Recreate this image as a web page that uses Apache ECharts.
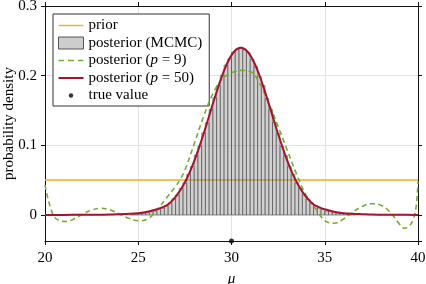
<!DOCTYPE html>
<html><head><meta charset="utf-8">
<script src="https://cdn.jsdelivr.net/npm/echarts@6/dist/echarts.min.js"></script>
<style>html,body{margin:0;padding:0;background:#fff}#c{width:426px;height:284px}</style>
</head><body><div id="c"></div>
<script>
// ---- data ----
const xMin = 20, xMax = 40, xStep = 5;
const yMin = -0.0375, yMax = 0.3;
const priorX = [20, 40];
const priorY = [0.05, 0.05];
const histStart = 24.6, histWidth = 0.2;
const histHeights = [0.0012,0.0016,0.0019,0.0027,0.0032,0.0044,0.0056,0.0078,0.0095,0.0131,
  0.0166,0.0231,0.0286,0.0378,0.0458,0.0582,0.0694,0.0858,0.0990,0.1178,
  0.1322,0.1518,0.1684,0.1861,0.2003,0.2152,0.2241,0.2338,0.2379,0.2408,
  0.2372,0.2331,0.2232,0.2131,0.1987,0.1858,0.1672,0.1512,0.1328,0.1167,
  0.0983,0.0851,0.0694,0.0581,0.0460,0.0379,0.0290,0.0228,0.0169,0.0133,
  0.0098,0.0078,0.0056,0.0045,0.0033,0.0028,0.0020,0.0017,0.0011,0.0009];
const p50X = [20,21,22,23,23.5,24,24.5,25,25.5,26,26.5,26.75,27,27.25,27.5,27.75,28,28.25,28.5,28.75,29,29.25,29.5,29.75,30,30.25,30.5,30.75,31,31.25,31.5,31.75,32,32.25,32.5,32.75,33,33.25,33.5,33.75,34,34.25,34.5,35,35.5,36,36.5,37,37.5,38,39,40];
const p50Y = [0,0,0.0001,0.0003,0.0005,0.001,0.0015,0.0025,0.0045,0.008,0.0132,0.0187,0.026,0.0353,0.0469,0.0608,0.0772,0.0958,0.1161,0.1377,0.1596,0.1807,0.2002,0.2167,0.2294,0.2373,0.24,0.2373,0.2294,0.2167,0.2002,0.1807,0.1596,0.1377,0.1161,0.0958,0.0772,0.0608,0.0469,0.0353,0.026,0.0187,0.0132,0.008,0.0045,0.0025,0.0015,0.001,0.0005,0.0003,0.0001,0];
const p9X = [20,20.1,20.2,20.35,20.5,20.75,21,21.25,21.5,21.75,22,22.5,23,23.5,24,24.5,25,25.5,26,26.5,27,27.25,27.5,28,28.5,29,29.5,30,30.5,31,31.5,32,32.5,33,33.5,34,34.5,35,35.5,36,36.5,37,37.5,38,38.5,39,39.25,39.5,39.75,39.9,40];
const p9Y = [0.043,0.030,0.019,0.006,-0.003,-0.008,-0.0095,-0.009,-0.0065,-0.003,0.001,0.007,0.0095,0.007,0.001,-0.005,-0.0085,-0.006,0.007,0.024,0.041,0.051,0.064,0.102,0.141,0.174,0.195,0.204,0.2075,0.206,0.189,0.160,0.127,0.092,0.058,0.028,0.009,-0.008,-0.012,-0.006,0.004,0.012,0.016,0.014,0.004,-0.013,-0.019,-0.017,-0.006,0.012,0.048];
const trueValue = 30;
const names = ['prior','posterior (MCMC)','posterior (p = 9)','posterior (p = 50)','true value'];

// ---- build ----
const zip = (a,b) => a.map((v,i) => [v,b[i]]);
const histData = histHeights.map((h,i) => {
  const x0 = +(histStart + i*histWidth).toFixed(4);
  return [x0, +(x0+histWidth).toFixed(4), h];
});
const FF = '"Liberation Serif", "DejaVu Serif", serif';
const FS = 15;
const axisLineStyle = {color:'#111', width:1};
const tickStyle = {show:true, inside:false, length:4, lineStyle:{color:'#111', width:1}};
const gridLine = {show:true, lineStyle:{color:'#e2e2e2', width:1}};
const yFmt = v => Math.abs(v) < 1e-9 ? '0' : (Math.abs(v*10 - Math.round(v*10)) < 1e-6 ? String(Math.round(v*10)/10) : '');
// legend icons (frame 25x12 set by the leading moves)
const iconLine = 'path://M0,0M25,12M0,5.3h25v1.4h-25z';
const iconDash = 'path://M0,0M25,12M0,5.2h5.5v1.6h-5.5zM9.5,5.2h6v1.6h-6zM19.5,5.2h5.5v1.6h-5.5z';
const iconRed = 'path://M0,0M25,12M0,5h25v2h-25z';
const iconDot = 'path://M0,0M25,12M10.3,6a2.2,2.2 0 1,0 4.4,0a2.2,2.2 0 1,0 -4.4,0z';

const chart = echarts.init(document.getElementById('c'), null, {renderer:'canvas'});
chart.setOption({
  animation:false,
  backgroundColor:'#fff',
  grid:{left:45, right:8, top:6, bottom:43, containLabel:false, outerBoundsMode:'none'},
  xAxis:[
    {type:'value', min:xMin, max:xMax, interval:xStep, position:'bottom',
     axisLine:{show:true, onZero:false, lineStyle:axisLineStyle}, axisTick:tickStyle,
     axisLabel:{fontFamily:FF, fontSize:FS, color:'#000', margin:10},
     splitLine:gridLine,
     name:'μ', nameLocation:'middle', nameGap:31, nameMoveOverlap:false,
     nameTextStyle:{fontFamily:FF, fontSize:FS, fontStyle:'italic', color:'#000'}},
    {type:'value', min:xMin, max:xMax, interval:xStep, position:'top',
     axisLine:{show:true, onZero:false, lineStyle:axisLineStyle}, axisTick:tickStyle,
     axisLabel:{show:false}, splitLine:{show:false}}
  ],
  yAxis:[
    {type:'value', min:yMin, max:yMax, splitNumber:3, position:'left',
     axisLine:{show:true, onZero:false, lineStyle:axisLineStyle}, axisTick:tickStyle,
     axisLabel:{fontFamily:FF, fontSize:FS, color:'#000', margin:8, formatter:yFmt, showMinLabel:false},
     splitLine:gridLine,
     name:'probability density', nameLocation:'middle', nameGap:28, nameRotate:90, nameMoveOverlap:false,
     nameTextStyle:{fontFamily:FF, fontSize:FS, color:'#000'}},
    {type:'value', min:yMin, max:yMax, splitNumber:3, position:'right',
     axisLine:{show:true, onZero:false, lineStyle:axisLineStyle}, axisTick:tickStyle,
     axisLabel:{show:false}, splitLine:{show:false}}
  ],
  legend:{
    orient:'vertical', left:53, top:14, padding:[4,7,3,5],
    itemWidth:25, itemHeight:12, itemGap:2.5,
    backgroundColor:'#fff', borderColor:'#333', borderWidth:1, borderRadius:0,
    selectedMode:false,
    textStyle:{fontFamily:FF, fontSize:FS, color:'#000', lineHeight:15,
      rich:{i:{fontFamily:FF, fontSize:FS, fontStyle:'italic', color:'#000', lineHeight:15}}},
    formatter: n => n.replace('(p', '({i|p}'),
    data:[
      {name:names[0], icon:iconLine, itemStyle:{color:'#EDB120', borderWidth:0}},
      {name:names[1], icon:'rect', itemStyle:{color:'#cdcdcd', borderColor:'#555', borderWidth:1}},
      {name:names[2], icon:iconDash, itemStyle:{color:'#77AC30', borderWidth:0}},
      {name:names[3], icon:iconRed, itemStyle:{color:'#A2142F', borderWidth:0}},
      {name:names[4], icon:iconDot, itemStyle:{color:'#000', borderWidth:0}}
    ]
  },
  series:[
    {name:names[0], type:'line', data:zip(priorX, priorY), symbol:'none',
     lineStyle:{color:'#EDB120', width:1.5}, itemStyle:{color:'#EDB120'}, z:2},
    {name:names[1], type:'custom', data:histData, encode:{x:[0,1], y:2}, z:3,
     itemStyle:{color:'#cdcdcd'},
     renderItem:(params, api) => {
       const p0 = api.coord([api.value(0), api.value(2)]);
       const p1 = api.coord([api.value(1), 0]);
       return {type:'rect', shape:{x:p0[0], y:p0[1], width:p1[0]-p0[0], height:p1[1]-p0[1]},
         style:{fill:'rgba(140,140,140,0.4)', stroke:'rgba(40,40,40,0.7)', lineWidth:0.6}};
     }},
    {name:names[2], type:'line', data:zip(p9X, p9Y), symbol:'none', smooth:0.4,
     lineStyle:{color:'#77AC30', width:1.6, type:[5,3.5]}, itemStyle:{color:'#77AC30'}, z:4},
    {name:names[3], type:'line', data:zip(p50X, p50Y), symbol:'none', smooth:0.4,
     lineStyle:{color:'#A2142F', width:2}, itemStyle:{color:'#A2142F'}, z:5},
    {name:names[4], type:'scatter', data:[[trueValue, yMin]], symbolSize:5, clip:false,
     itemStyle:{color:'#000'}, z:6}
  ]
});
</script></body></html>
